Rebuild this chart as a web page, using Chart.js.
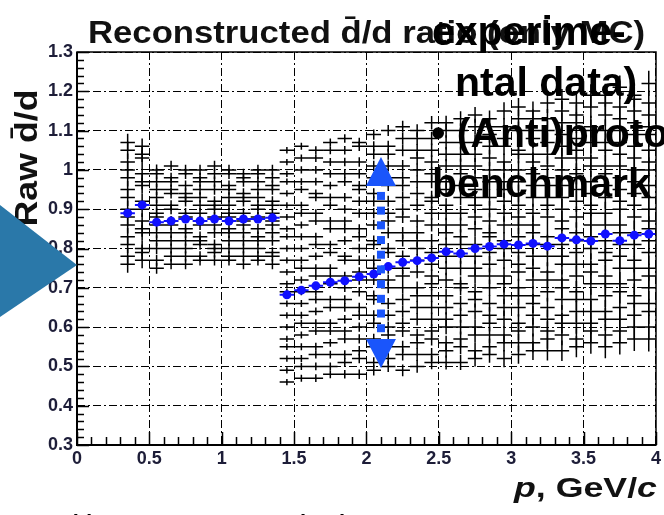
<!DOCTYPE html>
<html>
<head>
<meta charset="utf-8">
<script src="https://cdn.jsdelivr.net/npm/chart.js@4.4.1/dist/chart.umd.min.js"></script>
<style>
  html, body { margin: 0; padding: 0; background: #fff; overflow: hidden; }
  canvas { display: block; }
</style>
</head>
<body>
<canvas id="c" width="664" height="515"></canvas>
<script>
// Momentum bin centres (GeV/c); every bin is 0.1 wide
const pLow  = [0.35, 0.45, 0.55, 0.65, 0.75, 0.85, 0.95, 1.05, 1.15, 1.25, 1.35];
const pHigh = [1.45, 1.55, 1.65, 1.75, 1.85, 1.95, 2.05, 2.15, 2.25, 2.35, 2.45, 2.55, 2.65,
               2.75, 2.85, 2.95, 3.05, 3.15, 3.25, 3.35, 3.45, 3.55, 3.65, 3.75, 3.85, 3.95];
const binHalfWidth = 0.05;

// Antiproton benchmark ratio (blue)
const benchLow     = [0.890, 0.911, 0.867, 0.870, 0.875, 0.870, 0.875, 0.870, 0.875, 0.875, 0.878];
const benchLowErr  = [0.008, 0.008, 0.007, 0.007, 0.007, 0.007, 0.007, 0.007, 0.007, 0.007, 0.007];
const benchHigh    = [0.682, 0.694, 0.705, 0.714, 0.718, 0.728, 0.735, 0.754, 0.765, 0.769, 0.776, 0.792, 0.787,
                      0.800, 0.805, 0.811, 0.809, 0.813, 0.806, 0.827, 0.822, 0.819, 0.837, 0.820, 0.834, 0.837];
const benchHighErr = [0.004, 0.004, 0.004, 0.005, 0.005, 0.005, 0.005, 0.006, 0.006, 0.006, 0.006, 0.007, 0.007,
                      0.007, 0.007, 0.008, 0.008, 0.008, 0.008, 0.009, 0.009, 0.009, 0.010, 0.010, 0.010, 0.011];

// Reconstructed d̄/d ratio, one row per MC variation (black), low-p region
const variantsLow = [
  [1.07, 1.06, 1.00, 1.01, 1.00, 1.00, 1.01, 1.00, 0.99, 1.00, 1.00],
  [1.05, 1.04, 0.99, 0.98, 0.99, 0.98, 0.99, 0.99, 0.98, 0.99, 0.98],
  [1.02, 1.03, 0.97, 0.97, 0.96, 0.97, 0.97, 0.96, 0.97, 0.97, 0.96],
  [1.00, 0.99, 0.95, 0.95, 0.94, 0.95, 0.95, 0.95, 0.94, 0.95, 0.95],
  [0.98, 0.97, 0.93, 0.94, 0.93, 0.93, 0.92, 0.93, 0.93, 0.93, 0.92],
  [0.95, 0.96, 0.91, 0.91, 0.92, 0.91, 0.91, 0.91, 0.92, 0.91, 0.91],
  [0.93, 0.92, 0.89, 0.90, 0.89, 0.89, 0.90, 0.89, 0.89, 0.90, 0.89],
  [0.90, 0.90, 0.88, 0.87, 0.88, 0.87, 0.88, 0.88, 0.87, 0.88, 0.87],
  [0.88, 0.87, 0.86, 0.86, 0.85, 0.86, 0.86, 0.85, 0.86, 0.85, 0.86],
  [0.86, 0.85, 0.84, 0.84, 0.84, 0.83, 0.84, 0.84, 0.84, 0.83, 0.84],
  [0.83, 0.84, 0.82, 0.82, 0.82, 0.82, 0.81, 0.82, 0.82, 0.82, 0.82],
  [0.81, 0.80, 0.80, 0.80, 0.80, 0.81, 0.80, 0.80, 0.80, 0.80, 0.79],
  [0.78, 0.79, 0.77, 0.78, 0.78, 0.78, 0.79, 0.78, 0.78, 0.78, 0.78],
  [0.76, 0.77, 0.75, 0.76, 0.76, 0.77, 0.77, 0.77, 0.76, 0.77, 0.76]
];
const variantsLowErr = [0.022, 0.020, 0.014, 0.013, 0.013, 0.013, 0.013, 0.013, 0.013, 0.013, 0.013];

// Same variations, high-p region
const variantsHigh = [
  [1.05,1.06,1.05,1.07,1.08,1.07,1.09,1.10,1.11,1.10,1.12,1.12,1.13,1.14,1.13,1.15,1.16,1.15,1.17,1.18,1.17,1.19,1.19,1.21,1.19,1.22],
  [1.02,1.03,1.03,1.05,1.05,1.06,1.06,1.06,1.08,1.08,1.08,1.10,1.10,1.11,1.11,1.11,1.13,1.13,1.13,1.15,1.14,1.16,1.17,1.16,1.18,1.17],
  [0.99,1.00,1.00,1.02,1.02,1.02,1.04,1.04,1.05,1.05,1.05,1.07,1.07,1.07,1.09,1.08,1.10,1.10,1.10,1.12,1.12,1.11,1.14,1.13,1.15,1.14],
  [0.97,0.97,0.97,0.99,0.99,0.99,1.01,1.01,1.01,1.03,1.02,1.04,1.04,1.04,1.06,1.06,1.05,1.08,1.07,1.09,1.08,1.10,1.10,1.10,1.12,1.11],
  [0.94,0.95,0.94,0.96,0.97,0.96,0.98,0.98,0.98,1.00,0.99,1.01,1.01,1.01,1.03,1.02,1.04,1.04,1.04,1.06,1.05,1.07,1.07,1.07,1.09,1.09],
  [0.91,0.91,0.93,0.93,0.93,0.95,0.94,0.96,0.96,0.97,0.97,0.97,0.99,0.98,1.00,1.00,1.00,1.02,1.01,1.03,1.03,1.03,1.05,1.04,1.06,1.05],
  [0.88,0.89,0.89,0.91,0.90,0.92,0.92,0.92,0.93,0.94,0.93,0.95,0.96,0.95,0.97,0.97,0.97,0.99,0.98,1.00,0.99,1.01,1.01,1.01,1.03,1.02],
  [0.85,0.86,0.87,0.87,0.87,0.89,0.89,0.89,0.90,0.91,0.92,0.91,0.93,0.93,0.93,0.95,0.94,0.96,0.96,0.96,0.98,0.97,0.99,0.98,1.00,1.00],
  [0.83,0.83,0.83,0.85,0.85,0.85,0.86,0.87,0.88,0.87,0.89,0.89,0.89,0.91,0.90,0.92,0.91,0.93,0.93,0.93,0.95,0.94,0.96,0.95,0.97,0.96],
  [0.80,0.80,0.81,0.81,0.82,0.83,0.82,0.84,0.84,0.84,0.86,0.86,0.86,0.88,0.87,0.89,0.88,0.89,0.91,0.90,0.92,0.91,0.93,0.92,0.94,0.93],
  [0.77,0.77,0.78,0.79,0.78,0.80,0.81,0.80,0.82,0.82,0.82,0.84,0.83,0.85,0.84,0.86,0.86,0.86,0.88,0.87,0.88,0.89,0.89,0.90,0.91,0.90],
  [0.74,0.75,0.75,0.75,0.77,0.77,0.77,0.79,0.78,0.80,0.79,0.81,0.81,0.81,0.83,0.82,0.83,0.84,0.83,0.85,0.84,0.86,0.86,0.86,0.88,0.87],
  [0.71,0.72,0.73,0.73,0.73,0.74,0.75,0.75,0.75,0.77,0.76,0.78,0.78,0.78,0.79,0.80,0.79,0.81,0.81,0.81,0.82,0.83,0.82,0.84,0.84,0.85],
  [0.69,0.69,0.69,0.71,0.70,0.72,0.72,0.72,0.73,0.74,0.73,0.75,0.75,0.75,0.76,0.77,0.76,0.78,0.78,0.78,0.79,0.80,0.79,0.81,0.81,0.82],
  [0.66,0.66,0.67,0.67,0.67,0.69,0.68,0.70,0.70,0.70,0.71,0.72,0.71,0.73,0.73,0.73,0.74,0.75,0.74,0.76,0.76,0.76,0.77,0.78,0.77,0.79],
  [0.63,0.63,0.64,0.65,0.65,0.65,0.67,0.66,0.67,0.68,0.68,0.68,0.70,0.69,0.70,0.71,0.70,0.72,0.72,0.72,0.73,0.74,0.73,0.75,0.75,0.75],
  [0.60,0.61,0.61,0.61,0.62,0.63,0.63,0.63,0.64,0.65,0.65,0.65,0.66,0.67,0.66,0.68,0.68,0.68,0.69,0.70,0.69,0.71,0.71,0.71,0.72,0.73],
  [0.57,0.58,0.59,0.59,0.59,0.60,0.61,0.60,0.61,0.62,0.62,0.62,0.63,0.64,0.63,0.65,0.65,0.66,0.65,0.67,0.67,0.67,0.68,0.69,0.68,0.70],
  [0.55,0.55,0.55,0.56,0.57,0.57,0.57,0.58,0.59,0.58,0.59,0.60,0.60,0.60,0.61,0.62,0.61,0.63,0.62,0.63,0.64,0.64,0.64,0.65,0.66,0.66],
  [0.52,0.52,0.53,0.53,0.53,0.54,0.55,0.55,0.55,0.56,0.57,0.56,0.57,0.58,0.58,0.58,0.59,0.60,0.59,0.61,0.61,0.61,0.62,0.62,0.63,0.64],
  [0.49,0.50,0.50,0.50,0.51,0.52,0.51,0.52,0.53,0.53,0.53,0.54,0.55,0.54,0.55,0.56,0.56,0.56,0.57,0.58,0.57,0.59,0.58,0.59,0.60,0.60],
  [0.46,0.47,0.47,0.48,0.48,0.48,0.49,0.50,0.49,0.50,0.51,0.51,0.51,0.52,0.53,0.52,0.53,0.54,0.54,0.54,0.55,0.56,0.55,0.56,0.57,0.57]
];
const variantsHighErr = [0.008, 0.009, 0.010, 0.010, 0.011, 0.012, 0.013, 0.014, 0.015, 0.016, 0.017, 0.018, 0.019,
                         0.020, 0.021, 0.022, 0.023, 0.024, 0.025, 0.026, 0.027, 0.028, 0.029, 0.030, 0.031, 0.032];

// Axis ticks
const xTicks = [0, 0.5, 1, 1.5, 2, 2.5, 3, 3.5, 4];
const xTickLabels = ['0', '0.5', '1', '1.5', '2', '2.5', '3', '3.5', '4'];
const yTicks = [0.3, 0.4, 0.5, 0.6, 0.7, 0.8, 0.9, 1.0, 1.1, 1.2, 1.3];
const yTickLabels = ['0.3', '0.4', '0.5', '0.6', '0.7', '0.8', '0.9', '1', '1.1', '1.2', '1.3'];

// Shift marker: momentum and ratio span of the double arrow
const shiftArrowP = 2.1;
const shiftArrowFrom = 0.496;
const shiftArrowTo = 1.033;

const BLUE = '#1010ff';
const ARROW_BLUE = '#1a55fb';
const FONT = '"Liberation Sans", Arial, Helvetica, sans-serif';

function makeSeries(xs, ys, errs, color, width, radius) {
  return {
    data: xs.map((x, i) => ({ x: x, y: ys[i] })),
    yErr: errs,
    barColor: color,
    barWidth: width,
    showLine: false,
    pointRadius: radius,
    pointHoverRadius: radius,
    pointBackgroundColor: color,
    pointBorderWidth: 0,
    borderColor: color
  };
}

const datasets = [];
variantsLow.forEach(row => datasets.push(makeSeries(pLow, row, variantsLowErr, '#000', 1.5, 0)));
variantsHigh.forEach(row => datasets.push(makeSeries(pHigh, row, variantsHighErr, '#000', 1.5, 0)));
datasets.push(makeSeries(pLow, benchLow, benchLowErr, BLUE, 2, 4.5));
datasets.push(makeSeries(pHigh, benchHigh, benchHighErr, BLUE, 2, 4.5));

// Bin-width horizontal bars and vertical error bars, under the markers
const errorBars = {
  id: 'errorBars',
  beforeDatasetsDraw(chart) {
    const { ctx, chartArea: a, scales: { x, y } } = chart;
    ctx.save();
    ctx.beginPath();
    ctx.rect(a.left, a.top, a.right - a.left, a.bottom - a.top);
    ctx.clip();
    chart.data.datasets.forEach(ds => {
      ctx.strokeStyle = ds.barColor;
      ctx.lineWidth = ds.barWidth;
      ctx.beginPath();
      ds.data.forEach((pt, i) => {
        const px = x.getPixelForValue(pt.x);
        const py = y.getPixelForValue(pt.y);
        ctx.moveTo(x.getPixelForValue(pt.x - binHalfWidth), py);
        ctx.lineTo(x.getPixelForValue(pt.x + binHalfWidth), py);
        ctx.moveTo(px, y.getPixelForValue(pt.y + ds.yErr[i]));
        ctx.lineTo(px, y.getPixelForValue(pt.y - ds.yErr[i]));
      });
      ctx.stroke();
    });
    ctx.restore();
  }
};

// Dotted double-headed arrow marking the benchmark shift
const shiftArrow = {
  id: 'shiftArrow',
  afterDatasetsDraw(chart) {
    const { ctx, scales: { x, y } } = chart;
    const cx = x.getPixelForValue(shiftArrowP);
    const yTop = y.getPixelForValue(shiftArrowTo);
    const yBot = y.getPixelForValue(shiftArrowFrom);
    const head = 29, half = 15, sq = 8, gap = 14.7;
    ctx.save();
    ctx.fillStyle = ARROW_BLUE;
    ctx.beginPath();
    ctx.moveTo(cx, yTop);
    ctx.lineTo(cx + half, yTop + head);
    ctx.lineTo(cx - half, yTop + head);
    ctx.closePath();
    ctx.fill();
    ctx.beginPath();
    ctx.moveTo(cx, yBot);
    ctx.lineTo(cx + half, yBot - head);
    ctx.lineTo(cx - half, yBot - head);
    ctx.closePath();
    ctx.fill();
    for (let yy = yTop + head + 6; yy + sq <= yBot - head - 2; yy += gap) {
      ctx.fillRect(cx - sq / 2, yy, sq, sq);
    }
    ctx.restore();
  }
};

function stretchedText(ctx, text, x, y, font, width, align) {
  ctx.font = font;
  const w = ctx.measureText(text).width;
  const s = width / w;
  ctx.save();
  ctx.translate(x, y);
  ctx.scale(s, 1);
  ctx.textAlign = align || 'left';
  ctx.fillText(text, 0, 0);
  ctx.restore();
}

// Frame, inward ticks, titles and slide overlays
const decorations = {
  id: 'decorations',
  afterDraw(chart) {
    const { ctx, chartArea: a, scales: { x, y } } = chart;
    ctx.save();
    ctx.strokeStyle = '#000';
    // frame
    ctx.lineWidth = 1.5;
    ctx.strokeRect(a.left, a.top, a.right - a.left, a.bottom - a.top);
    ctx.lineWidth = 2;
    ctx.beginPath();
    ctx.moveTo(a.left, a.top); ctx.lineTo(a.left, a.bottom); ctx.lineTo(a.right, a.bottom);
    ctx.stroke();
    // ticks
    ctx.lineWidth = 1.5;
    ctx.beginPath();
    for (let k = 0; k <= 50; k++) {
      const v = 0.3 + k * 0.02;
      const py = Math.round(y.getPixelForValue(v)) + 0.5;
      const len = (k % 5 === 0) ? 12 : 7;
      ctx.moveTo(a.left, py); ctx.lineTo(a.left + len, py);
    }
    for (let k = 0; k <= 40; k++) {
      const v = k * 0.1;
      const px = Math.round(x.getPixelForValue(v)) + 0.5;
      const len = (k % 5 === 0) ? 13 : 8;
      ctx.moveTo(px, a.bottom); ctx.lineTo(px, a.bottom - len);
    }
    ctx.stroke();

    // main title
    ctx.fillStyle = '#111';
    ctx.textBaseline = 'alphabetic';
    stretchedText(ctx, 'Reconstructed d\u0304/d ratio (only MC)', 88, 43, 'bold 31px ' + FONT, 557, 'left');

    // y title
    ctx.save();
    ctx.translate(37, 158);
    ctx.rotate(-Math.PI / 2);
    stretchedText(ctx, 'Raw d\u0304/d', 0, 0, 'bold 31px ' + FONT, 137, 'center');
    ctx.restore();

    // x title: p, GeV/c with italic p and c
    const parts = [['p', 'italic bold 28px ' + FONT], [', GeV/', 'bold 28px ' + FONT], ['c', 'italic bold 28px ' + FONT]];
    let total = 0;
    parts.forEach(pt => { ctx.font = pt[1]; total += ctx.measureText(pt[0]).width; });
    const sx = 143 / total;
    let cursor = 0;
    ctx.save();
    ctx.translate(657 - 143, 497);
    ctx.scale(sx, 1);
    ctx.textAlign = 'left';
    parts.forEach(pt => { ctx.font = pt[1]; ctx.fillText(pt[0], cursor, 0); cursor += ctx.measureText(pt[0]).width; });
    ctx.restore();

    // slide arrow on the left
    ctx.fillStyle = '#2a78a9';
    ctx.beginPath();
    ctx.moveTo(0, 205); ctx.lineTo(77, 265); ctx.lineTo(0, 317);
    ctx.closePath();
    ctx.fill();

    // slide bullet text
    ctx.fillStyle = '#000';
    ctx.font = 'bold 41px ' + FONT;
    ctx.textAlign = 'left';
    ctx.fillText('(', 628, -8);
    ctx.fillText('experime-', 432, 45);
    ctx.fillText('ntal data)', 455, 96);
    ctx.fillText('\u2022 (Anti)proton', 431, 147);
    ctx.fillText('benchmark', 432, 197);

    // caption line below the plot
    ctx.font = 'bold 22px ' + FONT;
    ctx.fillText('Antideuteron reconstruction in ALICE ITS', 36, 530);
    ctx.restore();
  }
};

new Chart(document.getElementById('c'), {
  type: 'scatter',
  data: { datasets: datasets },
  plugins: [errorBars, shiftArrow, decorations],
  options: {
    responsive: false,
    animation: false,
    devicePixelRatio: 1,
    events: [],
    layout: { padding: { left: 0, right: 4, top: 52, bottom: 0 } },
    plugins: { legend: { display: false }, tooltip: { enabled: false }, title: { display: false } },
    scales: {
      x: {
        type: 'linear', min: 0, max: 4,
        afterFit(s) { s.height = 70; },
        afterBuildTicks(s) { s.ticks = xTicks.map(v => ({ value: v })); },
        ticks: {
          autoSkip: false, maxRotation: 0, padding: 3,
          color: '#1d1d38',
          font: { family: FONT, size: 18, weight: 'bold' },
          callback: (v, i) => xTickLabels[i]
        },
        grid: { color: '#000', lineWidth: 1, drawTicks: false },
        border: { display: false, dash: [8, 3, 2, 3] }
      },
      y: {
        type: 'linear', min: 0.3, max: 1.3,
        afterFit(s) { s.width = 77; },
        afterBuildTicks(s) { s.ticks = yTicks.map(v => ({ value: v })); },
        ticks: {
          autoSkip: false, padding: 4,
          color: '#1d1d38',
          font: { family: FONT, size: 18, weight: 'bold' },
          callback: (v, i) => yTickLabels[i]
        },
        grid: { color: '#000', lineWidth: 1, drawTicks: false },
        border: { display: false, dash: [8, 3, 2, 3] }
      }
    }
  }
});
</script>
</body>
</html>
